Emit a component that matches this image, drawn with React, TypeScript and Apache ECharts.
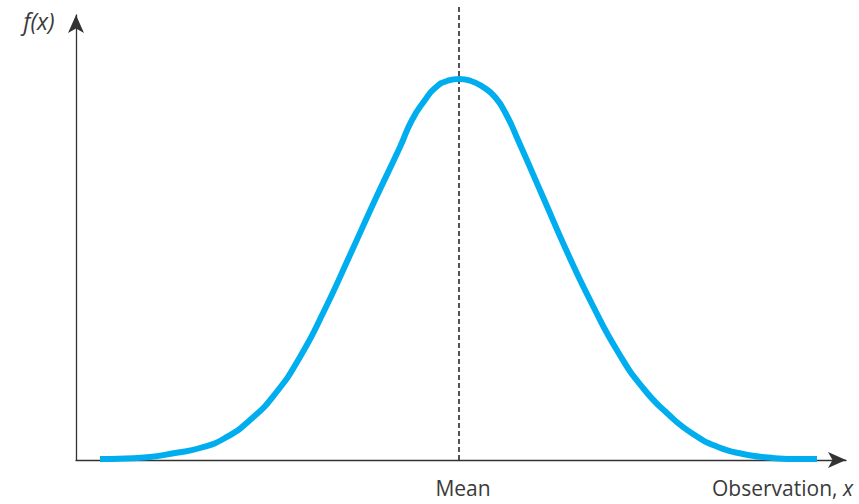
import React, { useEffect, useRef } from "react";
import * as echarts from "echarts";

// Curve (x: observation units, y: density units)
const curveX = [2.4, 4.9, 7.4, 9.9, 12.4, 14.9, 17.4, 19.9, 22.4, 24.9, 27.4, 29.9, 32.4, 33.6, 34.9, 35.9, 37.1, 38.3, 39.5, 40.7, 41.9, 43.0, 44.2, 46.7, 49.2, 51.7, 54.2, 56.7, 59.2, 61.7, 64.2, 66.7, 69.2, 71.7, 74.1];
const curveY = [0.1, 0.15, 0.3, 0.7, 1.2, 2.2, 4.0, 6.6, 10.3, 15.1, 20.5, 26.0, 31.3, 34.0, 36.0, 37.2, 37.9, 38.1, 37.9, 37.3, 36.3, 34.6, 32.0, 26.3, 20.6, 15.4, 10.8, 7.2, 4.6, 2.6, 1.3, 0.6, 0.25, 0.1, 0.1];
const meanX = 38.3;
const meanLineTop = 45.5;
const xLabels = ["Mean"];
const axisNames = { y: "f(x)", x: "Observation, " };

export default function App() {
  const ref = useRef<HTMLDivElement>(null);
  useEffect(() => {
    if (!ref.current) return;
    const chart = echarts.init(ref.current, undefined, { renderer: "svg" });
    const textColor = "#3a3a3a";
    const font = "'Open Sans', 'Noto Sans', sans-serif";
    chart.setOption({
      animation: false,
      grid: { left: 76, right: 13, top: 15, bottom: 44 },
      xAxis: {
        type: "value",
        min: 0,
        max: 77,
        splitLine: { show: false },
        axisTick: { show: false },
        axisLine: {
          show: true,
          symbol: ["none", "arrow"],
          symbolSize: [12, 18],
          lineStyle: { color: "#333", width: 1.3 },
        },
        axisLabel: {
          show: true,
          customValues: [meanX],
          formatter: () => xLabels[0],
          margin: 17,
          padding: [0, 0, 0, 8],
          color: textColor,
          fontSize: 21,
          lineHeight: 21,
          fontFamily: font,
        },
      },
      yAxis: {
        type: "value",
        min: 0,
        max: 44.5,
        splitLine: { show: false },
        axisTick: { show: false },
        axisLabel: { show: false },
        axisLine: {
          show: true,
          symbol: ["none", "arrow"],
          symbolSize: [12, 18],
          lineStyle: { color: "#333", width: 1.3 },
        },
      },
      series: [
        {
          type: "line",
          data: [[meanX, 0], [meanX, meanLineTop]],
          clip: false,
          symbol: "none",
          lineStyle: { color: "#1a1a1a", width: 1.5, type: [5, 3] },
          z: 1,
        },
        {
          type: "line",
          data: curveX.map((x, i) => [x, curveY[i]]),
          smooth: 0.55,
          symbol: "none",
          lineStyle: { color: "#00AEEF", width: 6 },
          z: 2,
        },
      ],
      graphic: [
        {
          type: "text",
          x: 39,
          y: 21,
          style: {
            text: axisNames.y,
            font: `italic 23px ${font}`,
            fill: textColor,
            align: "center",
            verticalAlign: "middle",
          },
        },
        {
          type: "text",
          x: 853,
          y: 488,
          style: {
            text: axisNames.x + "{i|x}",
            font: `21px ${font}`,
            fill: textColor,
            align: "right",
            verticalAlign: "middle",
            lineHeight: 21,
            rich: {
              i: { fontStyle: "italic", fontSize: 21, lineHeight: 21, fontFamily: font, fill: textColor },
            },
          },
        },
      ],
    });
    return () => chart.dispose();
  }, []);
  return (
    <div
      ref={ref}
      style={{ position: "fixed", left: 0, top: 0, width: 859, height: 504, background: "#fff" }}
    />
  );
}
